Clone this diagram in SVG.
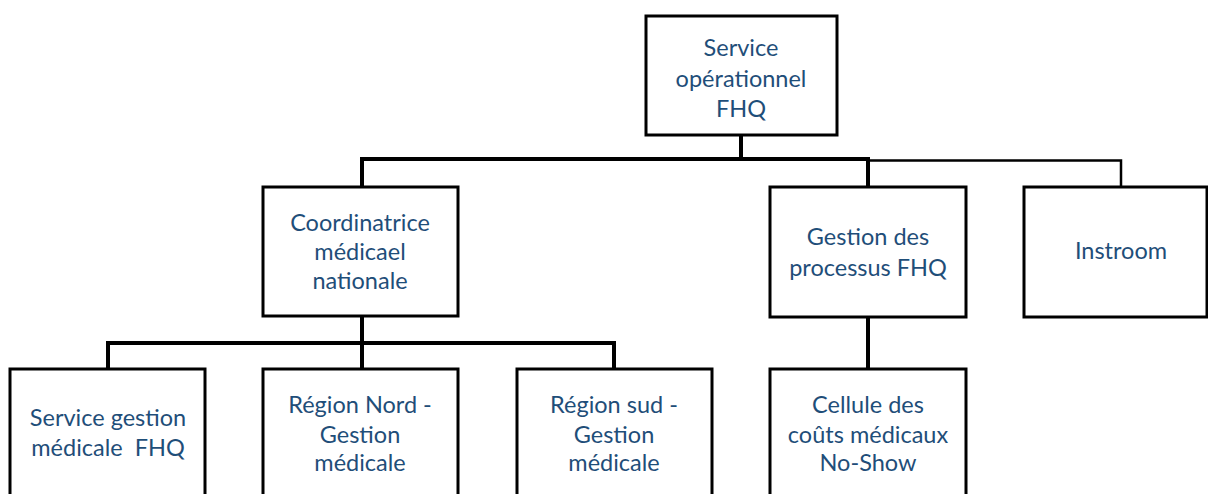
<svg xmlns="http://www.w3.org/2000/svg" width="1208" height="494" viewBox="0 0 1208 494">
<style>
.box{fill:#fff;stroke:#000;stroke-width:3}
.t{font-family:Lato,"Liberation Sans",sans-serif;font-size:23.5px;fill:#1F4E79;text-anchor:middle}
.c{fill:none;stroke:#000;stroke-width:4}
.c2{fill:none;stroke:#000;stroke-width:2.5}
</style>
<rect width="1208" height="494" fill="#fff"/>
<g id="connectors">
<path class="c" d="M741 135V159M362 187V159H868V187"/>
<path class="c2" d="M868 160.5H1121V187"/>
<path class="c" d="M362 316V343M108 369V343H614V369M362 343V369"/>
<path class="c" d="M868 317V369"/>
</g>
<g id="n-top"><rect class="box" x="646" y="16" width="191" height="119"/>
<text class="t" x="741" y="56">Service</text><text class="t" x="741" y="87">opérationnel</text><text class="t" x="741" y="117">FHQ</text></g>
<g id="n-coord"><rect class="box" x="263" y="187" width="195" height="129"/>
<text class="t" x="360" y="231">Coordinatrice</text><text class="t" x="360" y="260">médicael</text><text class="t" x="360" y="289">nationale</text></g>
<g id="n-gestion"><rect class="box" x="770" y="187" width="196" height="130"/>
<text class="t" x="868" y="245">Gestion des</text><text class="t" x="868" y="276">processus FHQ</text></g>
<g id="n-instroom"><rect class="box" x="1024" y="187" width="183" height="130"/>
<text class="t" x="1121" y="259">Instroom</text></g>
<g id="n-sgm"><rect class="box" x="10" y="369" width="195" height="135"/>
<text class="t" x="108" y="426">Service gestion</text><text class="t" x="108" y="456" xml:space="preserve">médicale  FHQ</text></g>
<g id="n-nord"><rect class="box" x="263" y="369" width="195" height="135"/>
<text class="t" x="360" y="413">Région Nord -</text><text class="t" x="360" y="443">Gestion</text><text class="t" x="360" y="471">médicale</text></g>
<g id="n-sud"><rect class="box" x="517" y="369" width="195" height="135"/>
<text class="t" x="614" y="413">Région sud -</text><text class="t" x="614" y="443">Gestion</text><text class="t" x="614" y="471">médicale</text></g>
<g id="n-cellule"><rect class="box" x="770" y="369" width="196" height="135"/>
<text class="t" x="868" y="413">Cellule des</text><text class="t" x="868" y="443">coûts médicaux</text><text class="t" x="868" y="471">No-Show</text></g>
</svg>
